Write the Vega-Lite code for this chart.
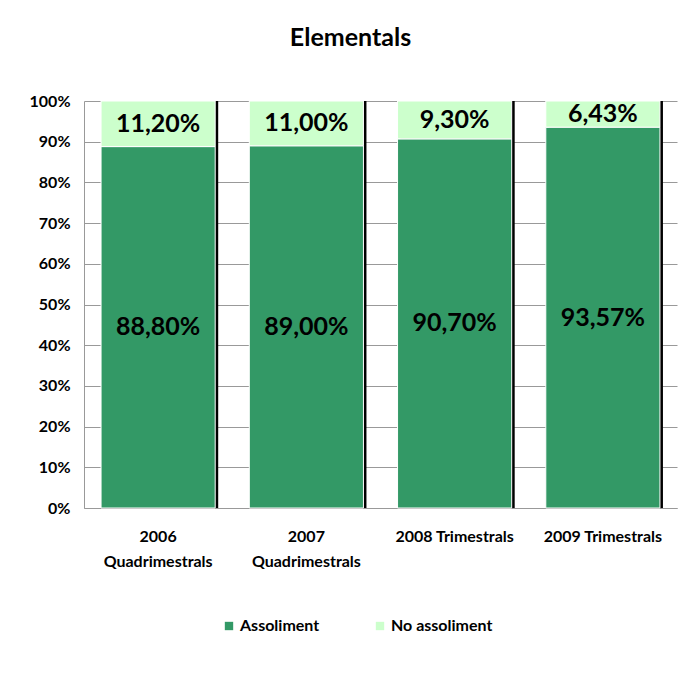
{
  "$schema": "https://vega.github.io/schema/vega-lite/v6.json",
  "width": 593,
  "height": 407,
  "autosize": "none",
  "padding": {"left": 84, "top": 101, "right": 12, "bottom": 173},
  "background": "white",
  "title": {"text": "Elementals", "fontSize": 25, "font": "Lato", "fontWeight": "bold", "color": "black", "anchor": "middle", "dx": -30, "offset": 22, "baseline": "alphabetic"},
  "data": {"values": [
    {"cat": "2006|Quadrimestrals", "series": "Assoliment", "ord": 1, "value": 0.888, "label": "88,80%"},
    {"cat": "2006|Quadrimestrals", "series": "No assoliment", "ord": 2, "value": 0.112, "label": "11,20%"},
    {"cat": "2007|Quadrimestrals", "series": "Assoliment", "ord": 1, "value": 0.89, "label": "89,00%"},
    {"cat": "2007|Quadrimestrals", "series": "No assoliment", "ord": 2, "value": 0.11, "label": "11,00%"},
    {"cat": "2008 Trimestrals", "series": "Assoliment", "ord": 1, "value": 0.907, "label": "90,70%"},
    {"cat": "2008 Trimestrals", "series": "No assoliment", "ord": 2, "value": 0.093, "label": "9,30%"},
    {"cat": "2009 Trimestrals", "series": "Assoliment", "ord": 1, "value": 0.9357, "label": "93,57%"},
    {"cat": "2009 Trimestrals", "series": "No assoliment", "ord": 2, "value": 0.0643, "label": "6,43%"}
  ]},
  "transform": [
    {"stack": "value", "groupby": ["cat"], "sort": [{"field": "ord", "order": "ascending"}], "as": ["y0", "y1"]},
    {"calculate": "(datum.y0 + datum.y1) / 2", "as": "mid"}
  ],
  "encoding": {
    "x": {
      "field": "cat", "type": "nominal", "sort": null,
      "scale": {"paddingInner": 0.23, "paddingOuter": 0.115},
      "axis": {
        "title": null, "labelExpr": "split(datum.label, '|')", "labelAngle": 0,
        "domain": true, "domainColor": "#999999", "ticks": false, "labelPadding": 20,
        "labelFontSize": 16, "labelFont": "Lato", "labelFontWeight": "bold", "labelColor": "black",
        "labelBaseline": "top", "labelLineHeight": 25
      }
    }
  },
  "layer": [
    {
      "transform": [{"filter": "datum.ord == 1"}],
      "mark": {"type": "bar", "color": "black", "xOffset": 3},
      "encoding": {
        "y": {"datum": 1, "type": "quantitative", "scale": {"domain": [0, 1], "nice": false}},
        "y2": {"datum": 0}
      }
    },
    {
      "mark": {"type": "bar", "stroke": "white", "strokeWidth": 1},
      "encoding": {
        "y": {
          "field": "y0", "type": "quantitative",
          "scale": {"domain": [0, 1], "nice": false},
          "axis": {
            "title": null, "format": ".0%", "values": [0, 0.1, 0.2, 0.3, 0.4, 0.5, 0.6, 0.7, 0.8, 0.9, 1],
            "grid": true, "gridColor": "#999999", "domain": true, "domainColor": "#999999", "ticks": false,
            "labelPadding": 14, "labelFontSize": 16, "labelFont": "Lato", "labelFontWeight": "bold", "labelColor": "black"
          }
        },
        "y2": {"field": "y1"},
        "color": {
          "field": "series", "type": "nominal",
          "scale": {"domain": ["Assoliment", "No assoliment"], "range": ["#339966", "#CCFFCC"]},
          "legend": {
            "title": null, "orient": "none", "legendX": 137, "legendY": 517, "direction": "horizontal",
            "symbolType": "square", "symbolSize": 70, "symbolStrokeWidth": 0, "columnPadding": 52,
            "labelFontSize": 16, "labelFont": "Lato", "labelFontWeight": "bold", "labelColor": "black", "labelOffset": 3
          }
        }
      }
    },
    {
      "mark": {"type": "text", "fontSize": 25, "font": "Lato", "fontWeight": "bold", "color": "black", "baseline": "middle"},
      "encoding": {
        "y": {"field": "mid", "type": "quantitative"},
        "text": {"field": "label"}
      }
    }
  ],
  "config": {"view": {"stroke": null}}
}
